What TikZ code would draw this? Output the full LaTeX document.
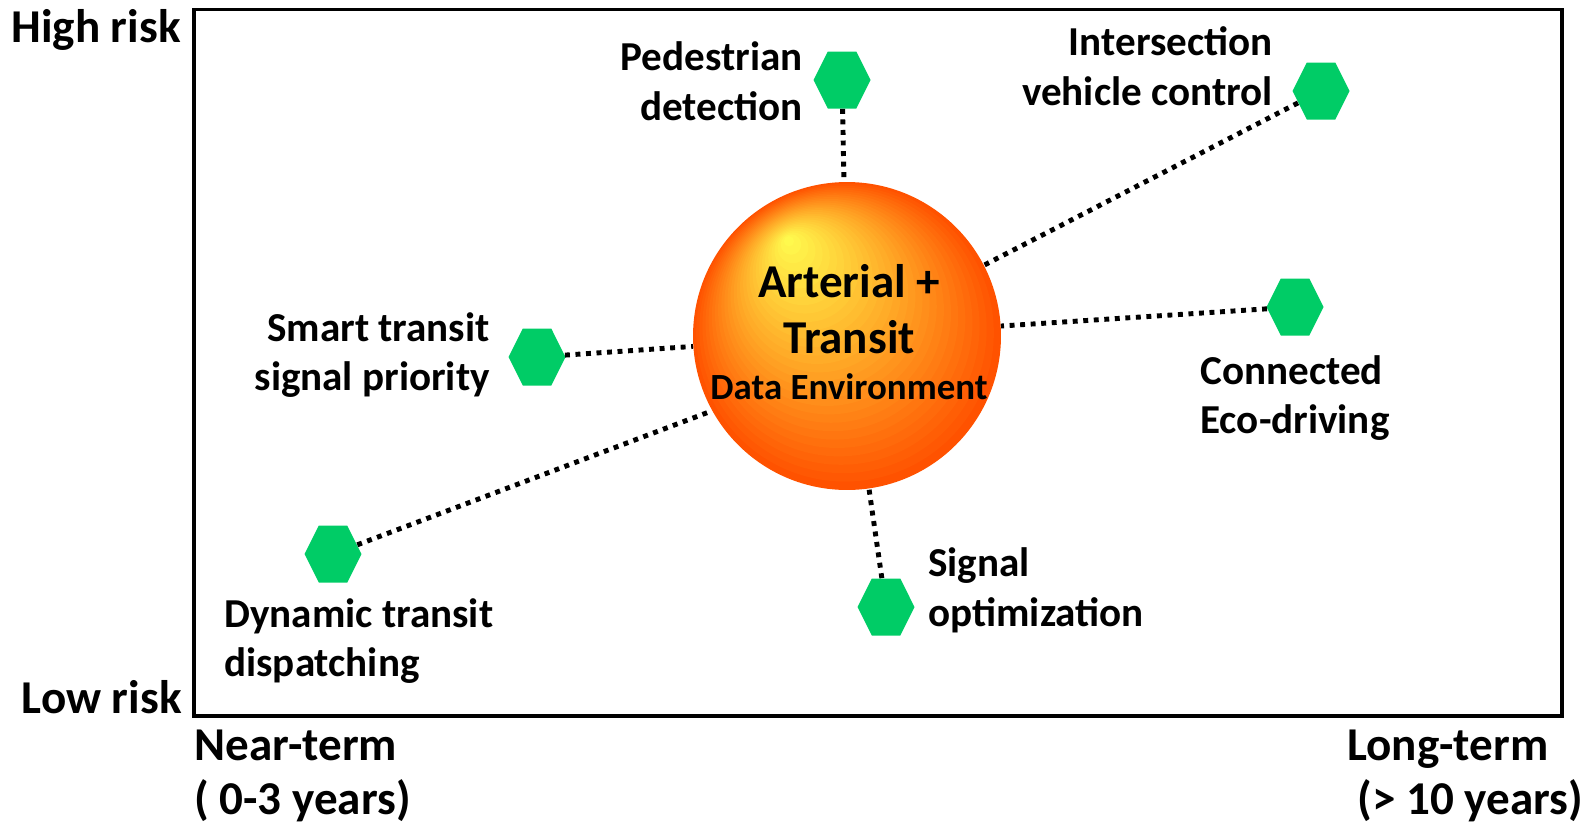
\documentclass[tikz,border=0pt]{standalone}
\usepackage{fontspec}
\setmainfont{Carlito}
\usetikzlibrary{shapes.geometric,calc}

\definecolor{hexgreen}{RGB}{0,204,102}
\definecolor{sunY}{RGB}{255,255,80}
\definecolor{sunO}{RGB}{255,172,40}
\definecolor{sunR}{RGB}{255,82,0}

\begin{document}
\begin{tikzpicture}[x=0.02cm, y=-0.02cm,
  hexa/.style={regular polygon, regular polygon sides=6, minimum size=1.14cm, inner sep=0pt, yscale=1.155, fill=hexgreen},
  link/.style={line width=2.8pt, dash pattern=on 2.8pt off 3.2pt},
  lbl/.style={inner sep=0pt, font=\fontsize{23.4}{28.3}\selectfont\bfseries},
  axis/.style={inner sep=0pt, font=\fontsize{26.8}{31}\selectfont\bfseries}]
\useasboundingbox (0,0) rectangle (1590,825);

% frame and axis texts
\draw[line width=2.27pt] (194,9.5) rectangle (1562,716);
\node[axis, anchor=east] (high) at (181,30) {High risk};
\node[axis, anchor=east] (low) at (182,697) {Low risk};
\node[axis, anchor=west, align=left] (near) at (194,776) {Near-term\\( 0-3 years)};
\node[axis, anchor=west, align=left] (long) at (1347,776) {Long-term\\\hspace*{0.2cm}(> 10 years)};

% the core: bands from the bright spot out to the rim
\coordinate (mid) at (847,336);
\coordinate (glow) at (787,238);
\foreach \i in {30,...,1} {
  \pgfmathsetmacro{\t}{\i/30}
  \ifnum\i>15
    \pgfmathsetmacro{\p}{(\t-0.5)/0.5*100}
    \fill[sunR!\p!sunO] ($(glow)!\t!(mid)$) circle[radius=\t*3.08cm];
  \else
    \pgfmathsetmacro{\p}{\t/0.5*100}
    \fill[sunO!\p!sunY] ($(glow)!\t!(mid)$) circle[radius=\t*3.08cm];
  \fi
}
\node[circle, minimum size=6.16cm, inner sep=0pt] (core) at (mid) {};
\node[align=center, inner sep=0pt, font=\fontsize{26.8}{32}\selectfont\bfseries] (coretxt) at (849,332)
  {Arterial +\\Transit\\[-6pt]{\fontsize{21}{25}\selectfont Data Environment}};

% applications
\node[hexa] (ped) at (842,80) {};
\node[hexa] (inter) at (1321,91) {};
\node[hexa] (smart) at (537,357) {};
\node[hexa] (eco) at (1295,307) {};
\node[hexa] (sig) at (886,607) {};
\node[hexa] (dyn) at (333,554) {};

\node[lbl, anchor=east, align=right] (pedtxt) at (803,81) {Pedestrian\\detection};
\node[lbl, anchor=east, align=right] (intertxt) at (1273,66) {Intersection\\vehicle control};
\node[lbl, anchor=east, align=right] (smarttxt) at (490,355) {Smart transit\\signal priority};
\node[lbl, anchor=west, align=left] (ecotxt) at (1200,398) {Connected\\Eco-driving};
\node[lbl, anchor=west, align=left] (sigtxt) at (928,590) {Signal\\optimization};
\node[lbl, anchor=west, align=left] (dyntxt) at (224,641) {Dynamic transit\\dispatching};

\draw[link] (ped) -- (core);
\draw[link] (inter) -- (core);
\draw[link] (smart) -- (core);
\draw[link] (eco) -- (core);
\draw[link] (sig) -- (core);
\draw[link] (dyn) -- (core.209);
\end{tikzpicture}
\end{document}
